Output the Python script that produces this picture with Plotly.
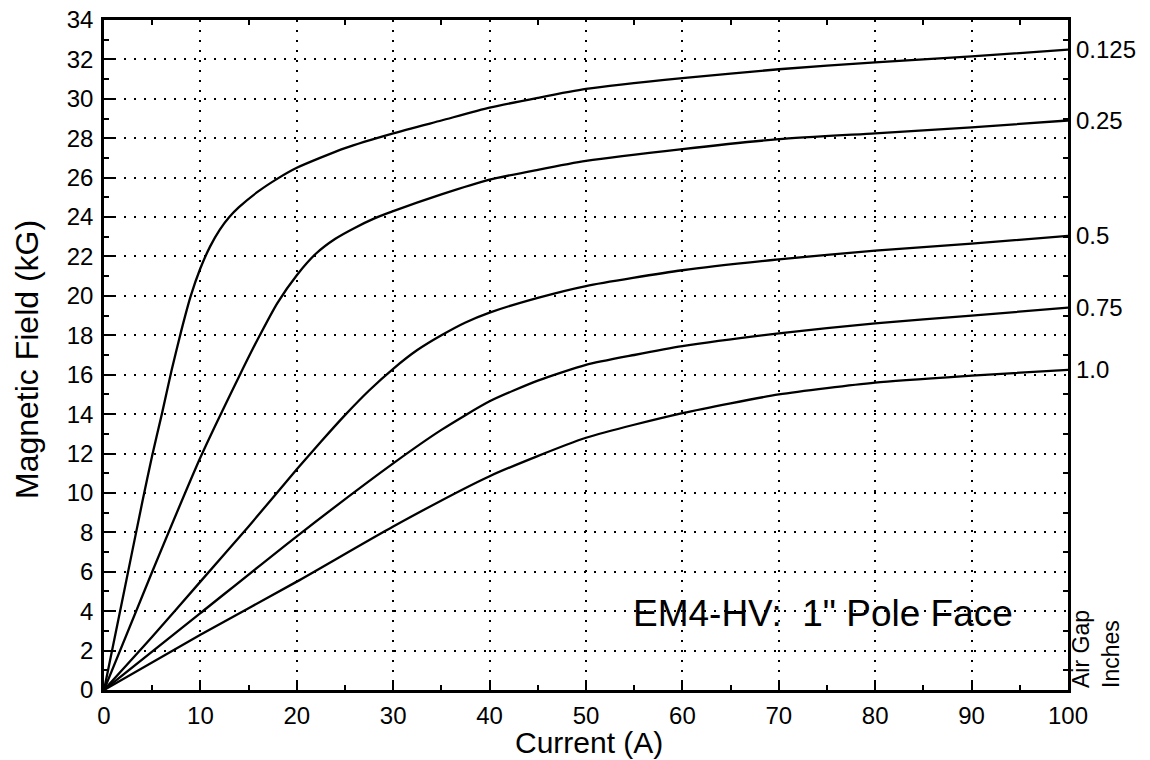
import plotly.graph_objects as go

# Air gap labels (inches)
gap_labels = ["0.125", "0.25", "0.5", "0.75", "1.0"]

# Current (A) and magnetic field (kG) for each air gap
x_0125 = [0, 2, 4, 5, 6, 7, 8, 9, 10, 11, 12, 13, 14, 16, 18, 20, 25, 30, 35, 40, 45, 50, 60, 70, 80, 90, 100]
y_0125 = [0, 4.8, 9.6, 11.9, 14.0, 16.2, 18.2, 20.0, 21.4, 22.5, 23.35, 24.0, 24.5, 25.3, 25.95, 26.5, 27.5, 28.25, 28.9, 29.55, 30.05, 30.5, 31.05, 31.5, 31.85, 32.15, 32.5]

x_025 = [0, 5, 10, 14, 16, 18, 20, 22, 24, 26, 28, 30, 35, 40, 45, 50, 60, 70, 80, 90, 100]
y_025 = [0, 6.0, 11.8, 15.9, 17.85, 19.65, 21.05, 22.15, 22.9, 23.45, 23.92, 24.3, 25.15, 25.9, 26.4, 26.85, 27.45, 27.95, 28.25, 28.55, 28.9]

x_05 = [0, 5, 10, 15, 20, 22.5, 25, 27.5, 30, 32.5, 35, 37.5, 40, 45, 50, 60, 70, 80, 90, 100]
y_05 = [0, 2.7, 5.5, 8.3, 11.2, 12.6, 13.95, 15.2, 16.3, 17.25, 18.0, 18.65, 19.15, 19.9, 20.5, 21.3, 21.85, 22.3, 22.65, 23.05]

x_075 = [0, 10, 20, 30, 35, 40, 45, 50, 55, 60, 70, 80, 90, 100]
y_075 = [0, 3.9, 7.8, 11.5, 13.2, 14.65, 15.7, 16.5, 17.0, 17.45, 18.1, 18.6, 19.0, 19.4]

x_10 = [0, 10, 20, 30, 40, 50, 60, 70, 80, 90, 100]
y_10 = [0, 2.8, 5.5, 8.3, 10.85, 12.8, 14.05, 15.0, 15.6, 15.95, 16.25]

series = [(x_0125, y_0125), (x_025, y_025), (x_05, y_05), (x_075, y_075), (x_10, y_10)]

x_ticks = list(range(0, 101, 10))
y_ticks = list(range(0, 35, 2))
top_minor = list(range(5, 100, 10))
right_minor = list(range(1, 34, 2))

FONT = "Arial, Liberation Sans, sans-serif"

fig = go.Figure()
for (xs, ys), lab in zip(series, gap_labels):
    fig.add_trace(go.Scatter(x=xs, y=ys, mode="lines", name=lab,
                             line=dict(color="black", width=2.3, shape="spline", smoothing=0.6),
                             showlegend=False, hoverinfo="skip"))

# dummy trace to activate the mirrored top/right axes
fig.add_trace(go.Scatter(x=[None], y=[None], xaxis="x2", yaxis="y2", showlegend=False, hoverinfo="skip"))

for (xs, ys), lab in zip(series, gap_labels):
    fig.add_annotation(x=xs[-1], y=ys[-1], xref="x", yref="y", text=lab, showarrow=False,
                       xanchor="left", yanchor="middle", xshift=6,
                       font=dict(family=FONT, size=24, color="black"))

fig.add_annotation(x=1, y=0, xref="paper", yref="paper", text="Air Gap<br>Inches",
                   textangle=-90, showarrow=False, xanchor="left", yanchor="bottom",
                   xshift=-2, align="left", font=dict(family=FONT, size=23, color="black"))

fig.add_annotation(x=74.6, y=3.9, xref="x", yref="y", text="EM4-HV:  1\" Pole Face",
                   showarrow=False, xanchor="center", yanchor="middle",
                   font=dict(family=FONT, size=37, color="black"))

# axis titles
fig.add_annotation(x=0.503, y=0, xref="paper", yref="paper", text="Current (A)",
                   showarrow=False, xanchor="center", yanchor="middle", yshift=-52,
                   font=dict(family=FONT, size=30, color="black"))
fig.add_annotation(x=0, y=0.4925, xref="paper", yref="paper", text="Magnetic Field (kG)",
                   showarrow=False, xanchor="center", yanchor="middle", xshift=-77,
                   textangle=-90, font=dict(family=FONT, size=32, color="black"))

grid = dict(showgrid=True, gridcolor="black", gridwidth=1.5, griddash="2px,8px")

fig.update_layout(
    width=1142, height=752,
    margin=dict(l=96, r=82, t=12, b=70, autoexpand=False),
    paper_bgcolor="white", plot_bgcolor="white",
    font=dict(family=FONT, color="black"),
    xaxis=dict(range=[0, 100], tickvals=x_ticks, ticks="inside", ticklen=10, tickwidth=2,
               tickcolor="black", showline=True, linecolor="black", linewidth=2.5, mirror=True,
               zeroline=False, tickfont=dict(size=24), ticklabelstandoff=2, automargin=False,
               ticklabeloverflow="allow",
               minor=dict(ticks="inside", ticklen=5, tickwidth=2, dtick=5, tickcolor="black", showgrid=False),
               **grid),
    yaxis=dict(range=[0, 34], tickvals=y_ticks, ticks="inside", ticklen=10, tickwidth=2,
               tickcolor="black", showline=True, linecolor="black", linewidth=2.5, mirror=True,
               zeroline=False, tickfont=dict(size=24), ticklabelstandoff=3, automargin=False,
               ticklabeloverflow="allow",
               minor=dict(ticks="inside", ticklen=5, tickwidth=2, dtick=1, tickcolor="black", showgrid=False),
               **grid),
    xaxis2=dict(overlaying="x", side="top", anchor="y", range=[0, 100], tickvals=top_minor,
                ticks="inside", ticklen=5, tickwidth=2, tickcolor="black", showticklabels=False,
                showgrid=False, zeroline=False, showline=False, automargin=False),
    yaxis2=dict(overlaying="y", side="right", anchor="x", range=[0, 34], tickvals=right_minor,
                ticks="inside", ticklen=5, tickwidth=2, tickcolor="black", showticklabels=False,
                showgrid=False, zeroline=False, showline=False, automargin=False),
)

fig.write_html("out.html")
